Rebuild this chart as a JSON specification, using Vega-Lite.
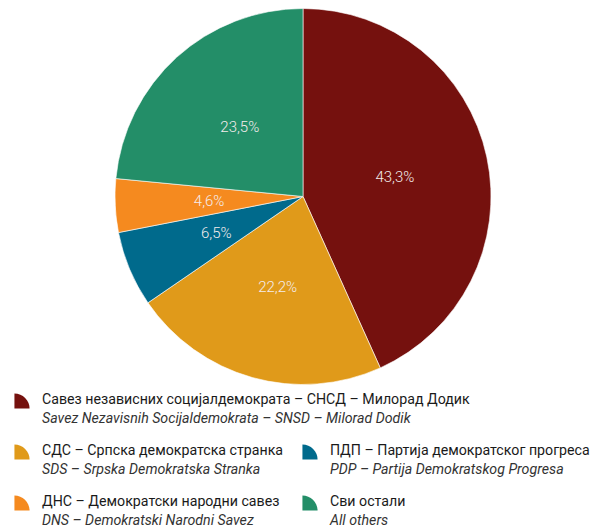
{
  "$schema": "https://vega.github.io/schema/vega-lite/v6.json",
  "padding": 0,
  "spacing": 0,
  "background": "white",
  "config": {
    "view": {"stroke": null},
    "locale": {"number": {"decimal": ",", "thousands": ".", "grouping": [3], "currency": ["", " €"]}}
  },
  "datasets": {
    "parties": [
      {"party": "SNSD", "ord": 1, "value": 0.433, "cyr": "Савез независних социјалдемократа – СНСД – Милорад Додик", "lat": "Savez Nezavisnih Socijaldemokrata – SNSD – Milorad Dodik", "col": 0, "row": 0},
      {"party": "SDS", "ord": 2, "value": 0.222, "cyr": "СДС – Српска демократска странка", "lat": "SDS – Srpska Demokratska Stranka", "col": 0, "row": 1},
      {"party": "PDP", "ord": 3, "value": 0.065, "cyr": "ПДП – Партија демократског прогреса", "lat": "PDP – Partija Demokratskog Progresa", "col": 1, "row": 1},
      {"party": "DNS", "ord": 4, "value": 0.046, "cyr": "ДНС – Демократски народни савез", "lat": "DNS – Demokratski Narodni Savez", "col": 0, "row": 2},
      {"party": "Others", "ord": 5, "value": 0.235, "cyr": "Сви остали", "lat": " All others", "col": 1, "row": 2}
    ]
  },
  "vconcat": [
    {
      "width": 606,
      "height": 393,
      "data": {"name": "parties"},
      "encoding": {
        "theta": {"field": "value", "type": "quantitative", "stack": true},
        "order": {"field": "ord", "type": "quantitative"},
        "color": {
          "field": "party", "type": "nominal", "legend": null,
          "scale": {"domain": ["SNSD", "SDS", "PDP", "DNS", "Others"], "range": ["#75110e", "#e09a1a", "#006a8c", "#f58a1f", "#238e68"]}
        }
      },
      "layer": [
        {"mark": {"type": "arc", "outerRadius": 188, "stroke": "#ffffff", "strokeWidth": 0.6}},
        {
          "mark": {"type": "text", "radius": 94, "font": "Roboto", "fontWeight": 300, "fontSize": 15, "align": "center", "baseline": "middle"},
          "encoding": {
            "text": {"field": "value", "type": "quantitative", "format": ".1%"},
            "color": {"value": "#f4ecec"}
          }
        }
      ]
    },
    {
      "width": 603,
      "height": 139,
      "data": {"name": "parties"},
      "encoding": {
        "x": {"field": "col", "type": "quantitative", "axis": null, "scale": {"domain": [0, 1], "range": [22, 310]}},
        "y": {"field": "row", "type": "quantitative", "axis": null, "scale": {"domain": [0, 2], "range": [3, 105]}}
      },
      "layer": [
        {
          "mark": {"type": "point", "filled": true, "opacity": 1, "size": 230, "shape": "M -1 1 L -1 -1 A 2 2 0 0 1 1 1 Z", "yOffset": 1},
          "encoding": {
            "color": {
              "field": "party", "type": "nominal", "legend": null,
              "scale": {"domain": ["SNSD", "SDS", "PDP", "DNS", "Others"], "range": ["#75110e", "#e09a1a", "#006a8c", "#f58a1f", "#238e68"]}
            }
          }
        },
        {
          "mark": {"type": "text", "align": "left", "baseline": "middle", "dx": 20, "font": "Roboto", "fontSize": 14.2, "color": "#1a1a1a"},
          "encoding": {"text": {"field": "cyr", "type": "nominal"}}
        },
        {
          "mark": {"type": "text", "align": "left", "baseline": "middle", "dx": 20, "dy": 19, "font": "Roboto", "fontSize": 14.2, "fontStyle": "italic", "color": "#333333"},
          "encoding": {"text": {"field": "lat", "type": "nominal"}}
        }
      ]
    }
  ]
}
